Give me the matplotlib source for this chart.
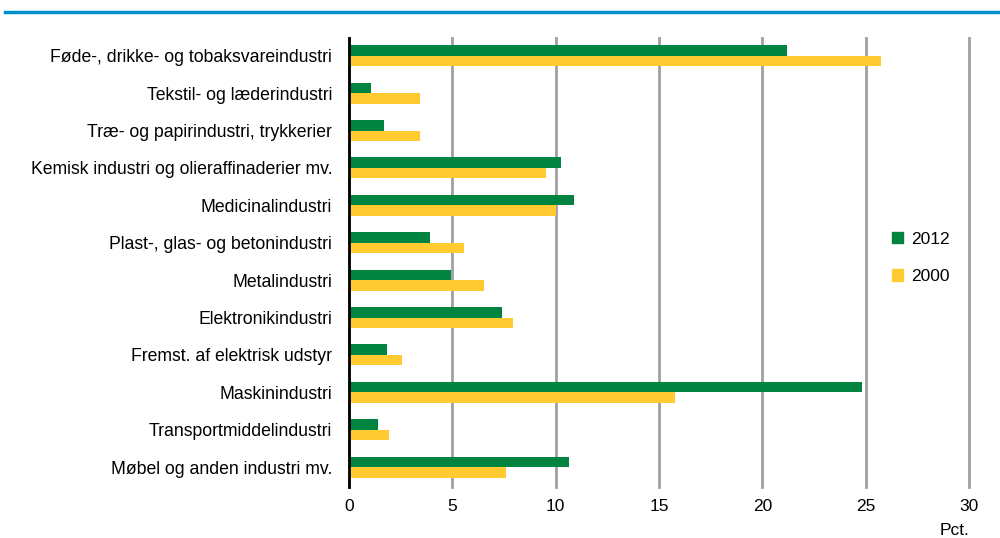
import numpy as np
import matplotlib.pyplot as plt
from matplotlib.patches import Patch
from matplotlib.lines import Line2D

plt.rcParams['font.family'] = ['Liberation Sans', 'DejaVu Sans']

# ---------------------------------------------------------
# DATA
# ---------------------------------------------------------
categories = [
    "Føde-, drikke- og tobaksvareindustri",
    "Tekstil- og læderindustri",
    "Træ- og papirindustri, trykkerier",
    "Kemisk industri og olieraffinaderier mv.",
    "Medicinalindustri",
    "Plast-, glas- og betonindustri",
    "Metalindustri",
    "Elektronikindustri",
    "Fremst. af elektrisk udstyr",
    "Maskinindustri",
    "Transportmiddelindustri",
    "Møbel og anden industri mv.",
]
values_2012 = [21.2, 1.05, 1.7, 10.25, 10.9, 3.9, 4.95, 7.4, 1.85, 24.8, 1.4, 10.65]
values_2000 = [25.75, 3.45, 3.45, 9.55, 10.0, 5.55, 6.55, 7.95, 2.55, 15.75, 1.95, 7.6]
xticks = [0, 5, 10, 15, 20, 25, 30]

GREEN = '#00843f'
YELLOW = '#ffcb31'

# ---------------------------------------------------------
# PLOT
# ---------------------------------------------------------
fig = plt.figure(figsize=(10, 5.38), dpi=100)
ax = fig.add_axes([0.349, 0.095, 0.620, 0.834])

y = np.arange(len(categories))
h = 0.28
ax.barh(y - h / 2, values_2012, height=h, color=GREEN, label='2012', zorder=3)
ax.barh(y + h / 2, values_2000, height=h, color=YELLOW, label='2000', zorder=3)

ax.set_xlim(0, 30)
ax.set_ylim(11.53, -0.47)
ax.set_xticks(xticks)
ax.set_xticklabels([str(t) for t in xticks], fontsize=12.5)
ax.set_yticks(y)
ax.set_yticklabels(categories, fontsize=12.7)
ax.tick_params(axis='y', length=0, pad=12)
ax.tick_params(axis='x', length=0, pad=9)

ax.xaxis.grid(True, color='#a0a0a0', linewidth=2, zorder=0)
for gl in ax.get_xgridlines():
    gl.set_clip_on(False)
ax.set_axisbelow(True)
for s in ['top', 'right', 'bottom']:
    ax.spines[s].set_visible(False)
ax.spines['left'].set_linewidth(2)
ax.spines['left'].set_color('black')
ax.spines['left'].set_zorder(4)

fig.text(0.955, 0.0, 'Pct.', fontsize=12.5, ha='center', va='bottom')

# legend
handles = [Patch(color=GREEN), Patch(color=YELLOW)]
ax.legend(handles, ['2012', '2000'], loc='center left',
          bbox_to_anchor=(0.85, 0.51), frameon=False, fontsize=12.5,
          handlelength=0.65, handleheight=0.65, handletextpad=0.45,
          labelspacing=1.3)

# blue top line
fig.add_artist(Line2D([0.005, 1.0], [0.977, 0.977], color='#0090d0',
                      linewidth=2.5, transform=fig.transFigure))

plt.savefig('out.png', dpi=100)
